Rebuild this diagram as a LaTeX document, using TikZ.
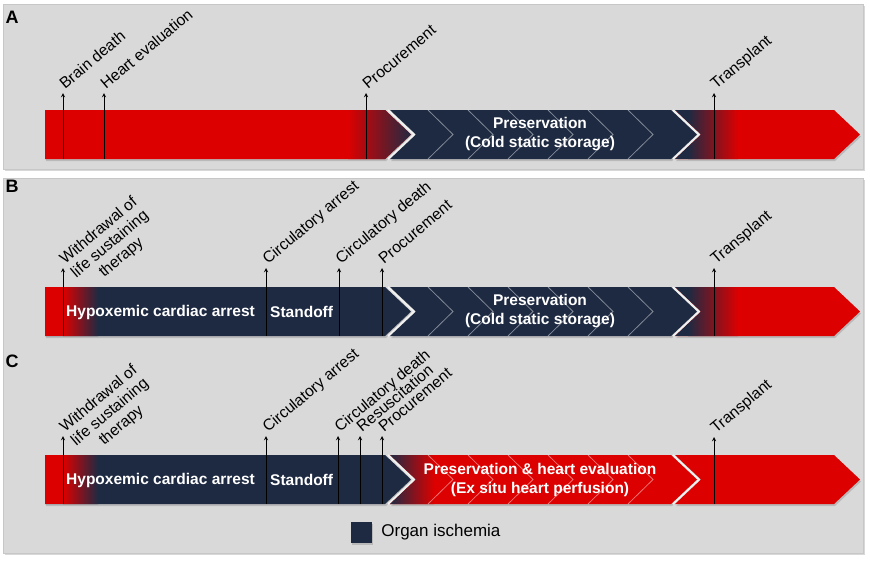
\documentclass[tikz,border=0pt]{standalone}
\usepackage{fontspec}
\setmainfont{Liberation Sans}
\usetikzlibrary{positioning,shadows}
\definecolor{ischnavy}{RGB}{30,42,66}
\definecolor{perfred}{RGB}{220,0,0}
\definecolor{panelgray}{RGB}{217,217,217}
\tikzset{panel/.style={fill=panelgray,draw=black!22,line width=0.8pt,
        drop shadow={shadow xshift=1.5pt,shadow yshift=-1.5pt,opacity=.3}},
        segshadow/.style={drop shadow={shadow xshift=1pt,shadow yshift=-2pt,opacity=.35}},
        evt/.style={line width=0.9pt,-stealth},
        evtlabel/.style={anchor=base west,inner sep=0pt,xshift=2pt,yshift=3pt,
        rotate=40,font=\fontsize{15.7}{17.5}\selectfont},
        bartext/.style={text=white,align=center,inner sep=0pt,
        font=\bfseries\fontsize{15.5}{19}\selectfont},
        paneltag/.style={inner sep=0pt,font=\bfseries\fontsize{18}{18}\selectfont},
        subchev/.style={draw=white,opacity=.45,line width=0.8pt},
        notch/.style={draw=white!90!gray,line width=1.6pt}}
%% segment outlines: left x, body right x, top y, bottom y
\newcommand{\headseg}[4]{(#1,#3) -- (#2,#3) -- ({#2+26},{(#3+#4)/2})
        -- (#2,#4) -- (#1,#4) -- cycle}
\newcommand{\tailseg}[4]{(#1,#3) -- (#2,#3) -- ({#2+26},{(#3+#4)/2})
        -- (#2,#4) -- (#1,#4) -- ({#1+26},{(#3+#4)/2}) -- cycle}
%% event arrow with its rotated label
\newcommand{\event}[5]{%
  \coordinate (#1-foot) at (#2,#3);
  \coordinate (#1-tip) at (#2,#4);
  \draw[evt] (#1-foot) -- (#1-tip);
  \node[evtlabel] (#1) at (#1-tip) {#5};}
\newcommand{\subchevrons}[2]{%
  \foreach \x in {428,468,...,628}
    \draw[subchev] (\x,#1) -- ({\x+25},{(#1+#2)/2}) -- (\x,#2);}
\newcommand{\wlsttext}{\begin{tabular}[t]{@{}c@{}}Withdrawal of\\
        life sustaining\\therapy\end{tabular}}

\begin{document}
\begin{tikzpicture}[x=1pt,y=-1pt]
  \useasboundingbox[fill=white] (0,0) rectangle (870,560);
  %% panel A
  \filldraw[panel] (3,4) rectangle (863,169);
  \node[paneltag] (tagA) at (12,17) {A};
  \fill[perfred,segshadow] \headseg{45}{385}{110}{159};
  \begin{scope}
    \clip \headseg{45}{385}{110}{159};
    \shade[left color=perfred,right color=ischnavy] (348,110) rectangle (412,159);
  \end{scope}
  \fill[ischnavy,segshadow] \tailseg{390}{671}{110}{159};
  \subchevrons{110}{159}
  \draw[notch] (388,110) -- (414,134.5) -- (388,159);
  \fill[perfred,segshadow] \tailseg{675}{834}{110}{159};
  \begin{scope}
    \clip \tailseg{675}{834}{110}{159};
    \fill[ischnavy] (670,110) rectangle (688,159);
    \shade[left color=ischnavy,right color=perfred] (688,110) rectangle (738,159);
  \end{scope}
  \draw[notch] (673,110) -- (699,134.5) -- (673,159);
  \node[bartext] (presA) at (540,134.5) {Preservation\\(Cold static storage)};
  \event{braindeath}{63}{159}{93}{Brain death}
  \event{hearteval}{104}{159}{93}{Heart evaluation}
  \event{procA}{366}{159}{93}{Procurement}
  \event{transA}{714}{159}{93}{Transplant}

  %% panels B and C
  \filldraw[panel] (3,178) rectangle (863,553);
  %% B
  \node[paneltag] (tagB) at (12,186) {B};
  \fill[ischnavy,segshadow] \headseg{45}{385}{287}{336};
  \begin{scope}
    \clip \headseg{45}{385}{287}{336};
    \fill[perfred] (45,287) rectangle (63,336);
    \shade[left color=perfred,right color=ischnavy] (63,287) rectangle (98,336);
  \end{scope}
  \fill[ischnavy,segshadow] \tailseg{390}{671}{287}{336};
  \subchevrons{287}{336}
  \draw[notch] (388,287) -- (414,311.5) -- (388,336);
  \fill[perfred,segshadow] \tailseg{675}{834}{287}{336};
  \begin{scope}
    \clip \tailseg{675}{834}{287}{336};
    \fill[ischnavy] (670,287) rectangle (688,336);
    \shade[left color=ischnavy,right color=perfred] (688,287) rectangle (738,336);
  \end{scope}
  \draw[notch] (673,287) -- (699,311.5) -- (673,336);
  \node[bartext,anchor=west] (hypoxB) at (66,312) {Hypoxemic cardiac arrest};
  \node[bartext,anchor=west] (standoffB) at (270,312) {Standoff};
  \node[bartext] (presB) at (540,311.5) {Preservation\\(Cold static storage)};
  \event{wlstB}{63}{336}{268}{\wlsttext}
  \event{circarrB}{266}{336}{268}{Circulatory arrest}
  \event{circdeathB}{339}{336}{268}{Circulatory death}
  \event{procB}{382}{336}{268}{Procurement}
  \event{transB}{714}{336}{268}{Transplant}

  %% C
  \node[paneltag] (tagC) at (12,361) {C};
  \fill[ischnavy,segshadow] \headseg{45}{385}{455}{504};
  \begin{scope}
    \clip \headseg{45}{385}{455}{504};
    \fill[perfred] (45,455) rectangle (63,504);
    \shade[left color=perfred,right color=ischnavy] (63,455) rectangle (98,504);
  \end{scope}
  \fill[perfred,segshadow] \tailseg{390}{671}{455}{504};
  \begin{scope}
    \clip \tailseg{390}{671}{455}{504};
    \shade[left color=ischnavy,right color=perfred] (390,455) rectangle (434,504);
  \end{scope}
  \subchevrons{455}{504}
  \draw[notch] (388,455) -- (414,479.5) -- (388,504);
  \fill[perfred,segshadow] \tailseg{675}{834}{455}{504};
  \draw[notch] (673,455) -- (699,479.5) -- (673,504);
  \node[bartext,anchor=west] (hypoxC) at (66,480) {Hypoxemic cardiac arrest};
  \node[bartext,anchor=west] (standoffC) at (270,480) {Standoff};
  \node[bartext] (presC) at (540,479.5)
       {Preservation \& heart evaluation\\(Ex situ heart perfusion)};
  \event{wlstC}{63}{504}{436}{\wlsttext}
  \event{circarrC}{266}{504}{436}{Circulatory arrest}
  \event{circdeathC}{338}{504}{436}{Circulatory death}
  \event{resusC}{360}{504}{436}{Resuscitation}
  \event{procC}{382}{504}{436}{Procurement}
  \event{transC}{714}{504}{437}{Transplant}

  %% legend
  \node[fill=ischnavy,minimum size=21pt,inner sep=0pt,segshadow] (ischbox) at (361.5,532.5) {};
  \node[right=9pt of ischbox,inner sep=0pt,font=\fontsize{17}{20}\selectfont] (ischtext) {Organ ischemia};
\end{tikzpicture}
\end{document}
